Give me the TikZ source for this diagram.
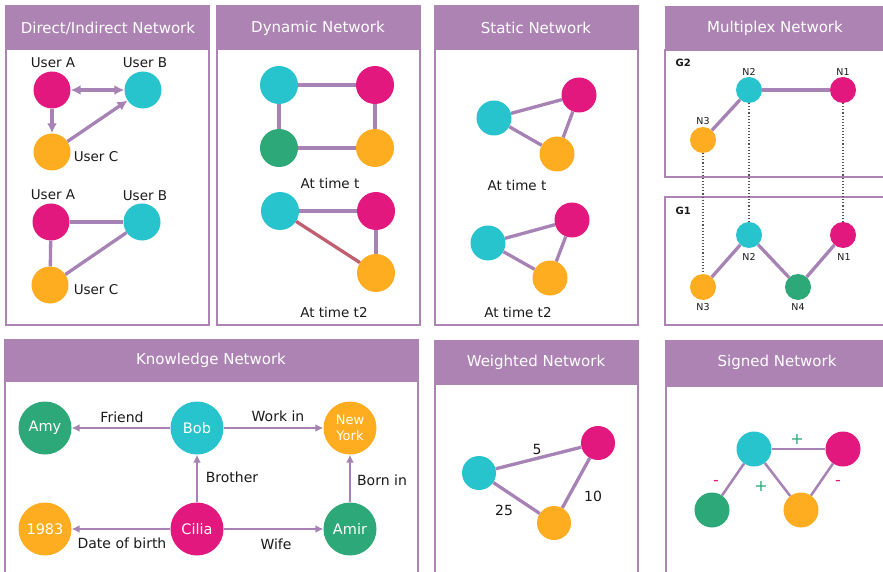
\documentclass[tikz,border=0pt]{standalone}
\usepackage{fontspec}
\setmainfont{DejaVu Sans}
\usetikzlibrary{arrows.meta}
\definecolor{mag}{HTML}{E3187F}
\definecolor{cya}{HTML}{27C4CD}
\definecolor{ora}{HTML}{FDAD1F}
\definecolor{grn}{HTML}{2DA878}
\definecolor{hdrpurple}{HTML}{AC83B3}
\definecolor{edgepurple}{HTML}{A782B4}
\definecolor{rededge}{HTML}{BF5F70}
\definecolor{ink}{HTML}{1A1A1A}
\tikzset{
  frame/.style={draw=hdrpurple, line width=2pt},
  hdr/.style={fill=hdrpurple},
  hdrtxt/.style={text=white, font=\fontsize{15}{18}\selectfont},
  dot/.style={circle, inner sep=0pt, minimum size=#1},
  dot/.default=37pt,
  lbl/.style={text=ink, font=\fontsize{13.5}{15}\selectfont},
  klbl/.style={text=ink, font=\fontsize{14}{16}\selectfont},
  small/.style={text=ink, font=\fontsize{9.5}{11}\selectfont},
  link/.style={draw=edgepurple, line width=3.3pt},
  thinlink/.style={draw=edgepurple, line width=2.5pt},
  arr/.style={draw=edgepurple, line width=3.3pt, -{Latex[length=10pt,width=10pt]}},
  darr/.style={draw=edgepurple, line width=3.3pt, {Latex[length=10pt,width=10pt]}-{Latex[length=10pt,width=10pt]}},
  karr/.style={draw=edgepurple, line width=2.4pt, -{Latex[length=8pt,width=8pt]}},
  tie/.style={draw=ink!75, line width=1.1pt, dotted},
}
\begin{document}
\begin{tikzpicture}[x=1pt,y=-1pt]
\clip (0,0) rectangle (883,572);
\fill[white] (0,0) rectangle (883,572);

% ---------- Direct/Indirect Network ----------
\draw[frame] (6,6) rectangle (209,325);
\fill[hdr] (6,6) rectangle (209,50);
\node[hdrtxt] (h1) at (108,28) {Direct/Indirect Network};
\node[dot, fill=mag] (da) at (52,90) {};
\node[dot, fill=cya] (db) at (143,90) {};
\node[dot, fill=ora] (dc) at (52,152) {};
\node[lbl] (lda) at (53,63) {User A};
\node[lbl] (ldb) at (145,63) {User B};
\node[lbl] (ldc) at (96,157) {User C};
\draw[darr] (da) -- (db);
\draw[arr] (da) -- (dc);
\draw[arr] (dc) -- (db);
\node[dot, fill=mag] (ia) at (51,222) {};
\node[dot, fill=cya] (ib) at (142,222) {};
\node[dot, fill=ora] (ic) at (50,285) {};
\node[lbl] (lia) at (53,195) {User A};
\node[lbl] (lib) at (145,196) {User B};
\node[lbl] (lic) at (96,290) {User C};
\draw[link] (ia) -- (ib);
\draw[link] (ia) -- (ic);
\draw[link] (ic) -- (ib);

% ---------- Dynamic Network ----------
\draw[frame] (217,6) rectangle (420,325);
\fill[hdr] (217,6) rectangle (420,50);
\node[hdrtxt] (h2) at (318,28) {Dynamic Network};
\node[dot=38pt, fill=cya] (ya) at (279,85) {};
\node[dot=38pt, fill=mag] (yb) at (375,85) {};
\node[dot=38pt, fill=grn] (yc) at (279,148) {};
\node[dot=38pt, fill=ora] (yd) at (375,148) {};
\draw[link] (ya) -- (yb);
\draw[link] (ya) -- (yc);
\draw[link] (yc) -- (yd);
\draw[link] (yb) -- (yd);
\node[lbl] (yt1) at (330,183) {At time t};
\node[dot=38pt, fill=cya] (za) at (280,211) {};
\node[dot=38pt, fill=mag] (zb) at (376,211) {};
\node[dot=38pt, fill=ora] (zd) at (376,273) {};
\draw[link] (za) -- (zb);
\draw[link] (zb) -- (zd);
\draw[link, draw=rededge] (za) -- (zd);
\node[lbl] (yt2) at (334,312) {At time t2};

% ---------- Static Network ----------
\draw[frame] (435,6) rectangle (638,325);
\fill[hdr] (435,6) rectangle (638,50);
\node[hdrtxt] (h3) at (536,28) {Static Network};
\node[dot=35pt, fill=cya] (sa) at (494,118) {};
\node[dot=35pt, fill=mag] (sb) at (579,95) {};
\node[dot=35pt, fill=ora] (sc) at (557,154) {};
\draw[link] (sa) -- (sb);
\draw[link] (sa) -- (sc);
\draw[link] (sb) -- (sc);
\node[lbl] (st1) at (517,185) {At time t};
\node[dot=35pt, fill=cya] (ta) at (488,243) {};
\node[dot=35pt, fill=mag] (tb) at (572,220) {};
\node[dot=35pt, fill=ora] (tc) at (550,278) {};
\draw[link] (ta) -- (tb);
\draw[link] (ta) -- (tc);
\draw[link] (tb) -- (tc);
\node[lbl] (st2) at (518,312) {At time t2};

% ---------- Multiplex Network ----------
\fill[hdr] (665,6) rectangle (892,50);
\node[hdrtxt] (h4) at (775,28) {Multiplex Network};
\draw[frame] (665,50) rectangle (892,177);
\draw[frame] (665,197) rectangle (892,325);
\node[text=ink, font=\fontsize{10}{12}\selectfont\bfseries, anchor=west] (g2) at (672,63) {G2};
\node[text=ink, font=\fontsize{10}{12}\selectfont\bfseries, anchor=west] (g1) at (672,211) {G1};
\node[dot=26pt, fill=cya] (m2) at (749,90) {};
\node[dot=26pt, fill=mag] (m1) at (843,90) {};
\node[dot=26pt, fill=ora] (m3) at (703,140) {};
\node[small] (lm2) at (749,72) {N2};
\node[small] (lm1) at (843,72) {N1};
\node[small] (lm3) at (703,121) {N3};
\draw[link] (m2) -- (m1);
\draw[link] (m2) -- (m3);
\node[dot=26pt, fill=cya] (n2) at (749,235) {};
\node[dot=26pt, fill=mag] (n1) at (843,235) {};
\node[dot=26pt, fill=ora] (n3) at (703,287) {};
\node[dot=26pt, fill=grn] (n4) at (798,287) {};
\node[small] (ln2) at (749,257) {N2};
\node[small] (ln1) at (844,257) {N1};
\node[small] (ln3) at (703,307) {N3};
\node[small] (ln4) at (798,307) {N4};
\draw[link] (n3) -- (n2);
\draw[link] (n2) -- (n4);
\draw[link] (n4) -- (n1);
\draw[tie] (m3) -- (n3);
\draw[tie] (m2) -- (n2);
\draw[tie] (m1) -- (n1);

% ---------- Knowledge Network ----------
\draw[frame] (5,340) rectangle (418,590);
\fill[hdr] (5,340) rectangle (418,382);
\node[hdrtxt] (h5) at (211,360) {Knowledge Network};
\begin{scope}[every node/.append style={text=white, font=\fontsize{14.5}{16}\selectfont}]
\node[dot=53pt, fill=grn] (amy) at (45,428) {Amy};
\node[dot=53pt, fill=cya] (bob) at (197,428) {Bob};
\node[dot=53pt, fill=ora, align=center, font=\fontsize{13}{16}\selectfont] (ny) at (350,428) {New\\York};
\node[dot=53pt, fill=ora] (yr) at (45,529) {1983};
\node[dot=53pt, fill=mag] (cil) at (197,529) {Cilia};
\node[dot=53pt, fill=grn] (amir) at (350,529) {Amir};
\end{scope}
\draw[karr] (bob) -- (amy);
\draw[karr] (bob) -- (ny);
\draw[karr] (cil) -- (bob);
\draw[karr] (amir) -- (ny);
\draw[karr] (cil) -- (yr);
\draw[karr] (cil) -- (amir);
\node[klbl] (kf) at (122,417) {Friend};
\node[klbl] (kw) at (278,416) {Work in};
\node[klbl] (kb) at (232,477) {Brother};
\node[klbl] (kbi) at (382,480) {Born in};
\node[klbl] (kd) at (122,543) {Date of birth};
\node[klbl] (kwi) at (276,544) {Wife};

% ---------- Weighted Network ----------
\draw[frame] (435,341) rectangle (638,590);
\fill[hdr] (435,341) rectangle (638,385);
\node[hdrtxt] (h6) at (536,362) {Weighted Network};
\node[dot=34pt, fill=cya] (wa) at (479,473) {};
\node[dot=34pt, fill=mag] (wb) at (598,443) {};
\node[dot=34pt, fill=ora] (wc) at (554,523) {};
\draw[link] (wa) -- (wb);
\draw[link] (wa) -- (wc);
\draw[link] (wb) -- (wc);
\node[klbl] (w5) at (537,449) {5};
\node[klbl] (w10) at (593,496) {10};
\node[klbl] (w25) at (504,510) {25};

% ---------- Signed Network ----------
\draw[frame] (666,341) rectangle (892,590);
\fill[hdr] (666,341) rectangle (892,387);
\node[hdrtxt] (h7) at (777,362) {Signed Network};
\node[dot=35pt, fill=cya] (ga) at (754,449) {};
\node[dot=35pt, fill=mag] (gb) at (843,449) {};
\node[dot=35pt, fill=grn] (gc) at (712,510) {};
\node[dot=35pt, fill=ora] (gd) at (801,510) {};
\draw[thinlink] (ga) -- (gb);
\draw[thinlink] (ga) -- (gc);
\draw[thinlink] (ga) -- (gd);
\draw[thinlink] (gb) -- (gd);
\node[text=grn, font=\fontsize{16}{18}\selectfont] (sp1) at (797,439) {+};
\node[text=grn, font=\fontsize{16}{18}\selectfont] (sp2) at (761,486) {+};
\node[text=mag, font=\fontsize{16}{18}\selectfont] (sm1) at (716,483) {-};
\node[text=mag, font=\fontsize{16}{18}\selectfont] (sm2) at (838,483) {-};
\end{tikzpicture}
\end{document}
